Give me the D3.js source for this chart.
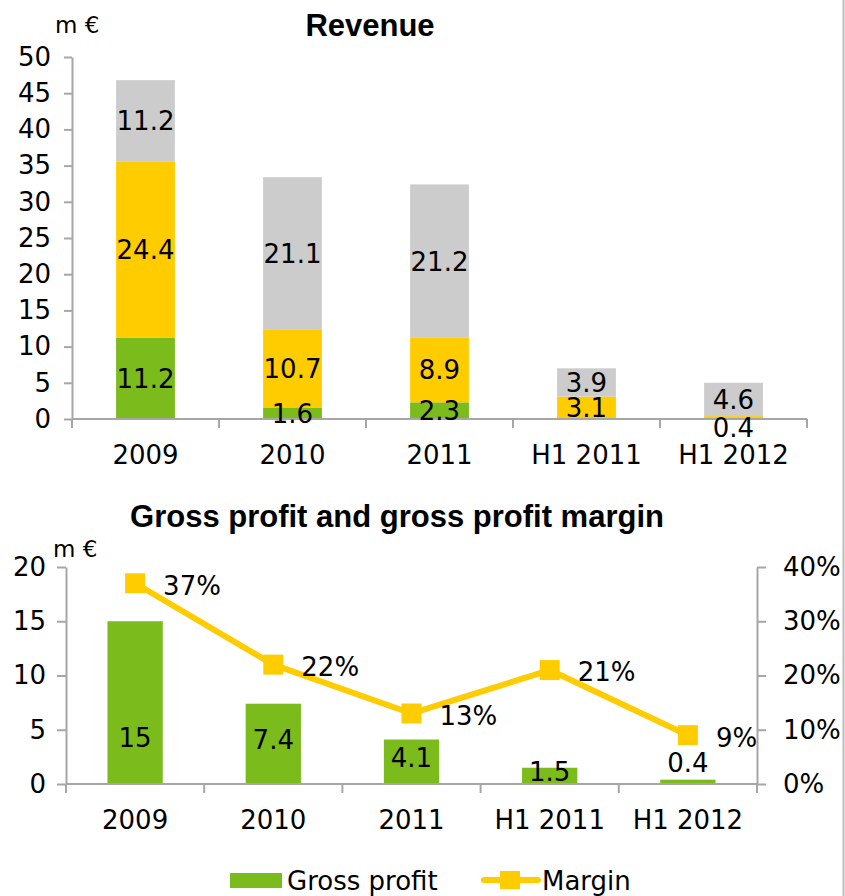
<!DOCTYPE html>
<html>
<head>
<meta charset="utf-8">
<script src="https://cdn.jsdelivr.net/npm/d3@7"></script>
<style>
  html, body { margin: 0; padding: 0; background: #fff; }
  svg { display: block; }
  text { font-family: "DejaVu Sans", Verdana, sans-serif; fill: #000; }
  .title { font-family: "Liberation Sans", Arial, sans-serif; font-weight: bold; }
</style>
</head>
<body>
<svg id="chart" width="845" height="896"></svg>
<script>
// ---- data ----
const categories = ["2009", "2010", "2011", "H1 2011", "H1 2012"];
const revenueGreen  = [11.2, 1.6, 2.3, 0, 0];
const revenueYellow = [24.4, 10.7, 8.9, 3.1, 0.4];
const revenueGray   = [11.2, 21.1, 21.2, 3.9, 4.6];
const revenueTicks  = [0, 5, 10, 15, 20, 25, 30, 35, 40, 45, 50];
const grossProfit   = [15, 7.4, 4.1, 1.5, 0.4];
const margin        = [0.37, 0.22, 0.13, 0.21, 0.09];
const profitTicks   = [0, 5, 10, 15, 20];
const marginTicks   = [0, 0.1, 0.2, 0.3, 0.4];

const GREEN = "#7BBB1B", YELLOW = "#FFCC00", GRAY = "#CCCCCC", AXIS = "#A6A6A6";
const FS = 26;

const svg = d3.select("#chart");

// right border line
svg.append("line").attr("x1", 843.5).attr("x2", 843.5).attr("y1", 0).attr("y2", 896)
  .attr("stroke", "#BBBBBB").attr("stroke-width", 2);

function styleAxis(g) {
  g.selectAll("path.domain").attr("stroke", AXIS).attr("stroke-width", 2);
  g.selectAll(".tick line").attr("stroke", AXIS).attr("stroke-width", 2);
  g.selectAll(".tick text").style("font-size", FS + "px").style("font-family", '"DejaVu Sans", Verdana, sans-serif').attr("fill", "#000");
}

// ================= Revenue chart =================
{
  const x0 = 72, x1 = 807, yTop = 57, yBot = 419;
  const x = d3.scaleBand().domain(categories).range([x0, x1]).paddingInner(0.6).paddingOuter(0.3);
  const y = d3.scaleLinear().domain([0, 50]).range([yBot, yTop]);

  const series = [
    { name: "s1", values: revenueGreen,  color: GREEN },
    { name: "s2", values: revenueYellow, color: YELLOW },
    { name: "s3", values: revenueGray,   color: GRAY }
  ];
  const rows = categories.map((c, i) => {
    const r = { cat: c };
    series.forEach(s => r[s.name] = s.values[i]);
    return r;
  });
  const stack = d3.stack().keys(series.map(s => s.name))(rows);

  stack.forEach((layer, li) => {
    const g = svg.append("g");
    g.selectAll("rect").data(layer).join("rect")
      .attr("x", d => x(d.data.cat))
      .attr("width", x.bandwidth())
      .attr("y", d => y(d[1]))
      .attr("height", d => y(d[0]) - y(d[1]))
      .attr("fill", series[li].color);
  });

  // axes
  const gy = svg.append("g").attr("transform", `translate(${x0},0)`)
    .call(d3.axisLeft(y).tickValues(revenueTicks).tickSize(8).tickPadding(13).tickSizeOuter(0));
  styleAxis(gy);
  // x axis with ticks at band boundaries
  const gx = svg.append("g").attr("transform", `translate(0,${yBot})`);
  gx.append("line").attr("x1", x0).attr("x2", x1).attr("stroke", AXIS).attr("stroke-width", 2);
  const bounds = categories.map(c => x(c) - x.step() * x.paddingInner() / 2 * 0 - (x.step() - x.bandwidth()) / 2);
  bounds.push(x1);
  gx.selectAll("line.tk").data(bounds).join("line").attr("class", "tk")
    .attr("x1", d => d).attr("x2", d => d).attr("y1", 0).attr("y2", 9)
    .attr("stroke", AXIS).attr("stroke-width", 2);
  gx.selectAll("text").data(categories).join("text")
    .attr("x", d => x(d) + x.bandwidth() / 2).attr("y", 45)
    .attr("text-anchor", "middle").style("font-size", FS + "px").text(d => d);

  // labels
  stack.forEach((layer, li) => {
    svg.append("g").selectAll("text").data(layer.filter(d => d[1] - d[0] > 0)).join("text")
      .attr("x", d => x(d.data.cat) + x.bandwidth() / 2)
      .attr("y", d => {
        const h = y(d[0]) - y(d[1]);
        if (h < 5) return yBot + 9;
        return (y(d[0]) + y(d[1])) / 2;
      })
      .attr("dy", "0.36em")
      .attr("text-anchor", "middle")
      .style("font-size", FS + "px")
      .text(d => d3.format(".1f")(d[1] - d[0]));
  });

  svg.append("text").attr("x", 55).attr("y", 33).style("font-size", "23px").text("m €");
  svg.append("text").attr("class", "title").attr("x", 370).attr("y", 36)
    .attr("text-anchor", "middle").style("font-size", "31px").text("Revenue");
}

// ================= Gross profit chart =================
{
  const x0 = 66, x1 = 757, yTop = 567, yBot = 784;
  const x = d3.scaleBand().domain(categories).range([x0, x1]).paddingInner(0.6).paddingOuter(0.3);
  const y = d3.scaleLinear().domain([0, 20]).range([yBot, yTop]);
  const y2 = d3.scaleLinear().domain([0, 0.4]).range([yBot, yTop]);

  svg.append("g").selectAll("rect").data(grossProfit).join("rect")
    .attr("x", (d, i) => x(categories[i]))
    .attr("width", x.bandwidth())
    .attr("y", d => y(d))
    .attr("height", d => y(0) - y(d))
    .attr("fill", GREEN);

  const gy = svg.append("g").attr("transform", `translate(${x0},0)`)
    .call(d3.axisLeft(y).tickValues(profitTicks).tickSize(9).tickPadding(11).tickSizeOuter(0));
  styleAxis(gy);
  const gy2 = svg.append("g").attr("transform", `translate(${x1},0)`)
    .call(d3.axisRight(y2).tickValues(marginTicks).tickFormat(d3.format(".0%")).tickSize(9).tickPadding(17).tickSizeOuter(0));
  styleAxis(gy2);

  const gx = svg.append("g").attr("transform", `translate(0,${yBot})`);
  gx.append("line").attr("x1", x0).attr("x2", x1).attr("stroke", AXIS).attr("stroke-width", 2);
  const bounds = categories.map(c => x(c) - (x.step() - x.bandwidth()) / 2);
  bounds.push(x1);
  gx.selectAll("line.tk").data(bounds).join("line").attr("class", "tk")
    .attr("x1", d => d).attr("x2", d => d).attr("y1", 0).attr("y2", 9)
    .attr("stroke", AXIS).attr("stroke-width", 2);
  gx.selectAll("text").data(categories).join("text")
    .attr("x", d => x(d) + x.bandwidth() / 2).attr("y", 45)
    .attr("text-anchor", "middle").style("font-size", FS + "px").text(d => d);

  // bar labels
  svg.append("g").selectAll("text").data(grossProfit).join("text")
    .attr("x", (d, i) => x(categories[i]) + x.bandwidth() / 2)
    .attr("y", d => {
      const h = y(0) - y(d);
      if (h < 10) return y(d) - 17;
      return Math.max((y(0) + y(d)) / 2 - 4, y(4.3));
    })
    .attr("dy", "0.36em")
    .attr("text-anchor", "middle")
    .style("font-size", FS + "px")
    .text(d => d);

  // margin line
  const cx = i => x(categories[i]) + x.bandwidth() / 2;
  const line = d3.line().x((d, i) => cx(i)).y(d => y2(d));
  svg.append("path").datum(margin).attr("d", line)
    .attr("fill", "none").attr("stroke", YELLOW).attr("stroke-width", 6).attr("stroke-linejoin", "round");
  svg.append("g").selectAll("rect").data(margin).join("rect")
    .attr("x", (d, i) => cx(i) - 10).attr("y", d => y2(d) - 10)
    .attr("width", 20).attr("height", 20).attr("fill", YELLOW);
  svg.append("g").selectAll("text").data(margin).join("text")
    .attr("x", (d, i) => cx(i) + 28).attr("y", d => y2(d) + 2)
    .attr("dy", "0.36em")
    .style("font-size", FS + "px")
    .text(d => d3.format(".0%")(d));

  svg.append("text").attr("x", 53).attr("y", 557).style("font-size", "23px").text("m €");
  svg.append("text").attr("class", "title").attr("x", 397).attr("y", 527)
    .attr("text-anchor", "middle").style("font-size", "31px").text("Gross profit and gross profit margin");

  // legend
  const lg = svg.append("g");
  lg.append("rect").attr("x", 230).attr("y", 873).attr("width", 52).attr("height", 15).attr("fill", GREEN);
  lg.append("text").attr("x", 287).attr("y", 890).style("font-size", FS + "px").text("Gross profit");
  lg.append("line").attr("x1", 484).attr("x2", 538).attr("y1", 880).attr("y2", 880)
    .attr("stroke", YELLOW).attr("stroke-width", 6).attr("stroke-linecap", "round");
  lg.append("rect").attr("x", 500).attr("y", 871).attr("width", 20).attr("height", 18).attr("fill", YELLOW);
  lg.append("text").attr("x", 542).attr("y", 890).style("font-size", FS + "px").text("Margin");
}
</script>
</body>
</html>
